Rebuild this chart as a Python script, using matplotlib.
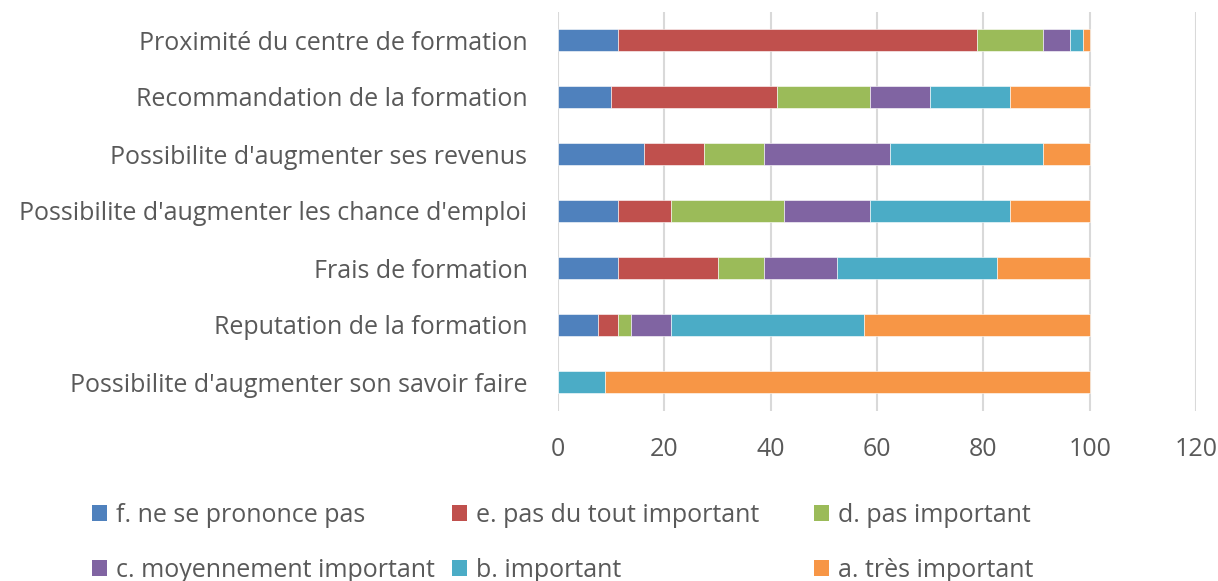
import numpy as np
import matplotlib.pyplot as plt
from matplotlib.patches import Patch

plt.rcParams['font.family'] = ['Open Sans', 'DejaVu Sans']

#%% Data (percent of respondents)
categories = [
    "Proximité du centre de formation",
    "Recommandation de la formation",
    "Possibilite d'augmenter ses revenus",
    "Possibilite d'augmenter les chance d'emploi",
    "Frais de formation",
    "Reputation de la formation",
    "Possibilite d'augmenter son savoir faire",
]
series_names = [
    "f. ne se prononce pas",
    "e. pas du tout important",
    "d. pas important",
    "c. moyennement important",
    "b. important",
    "a. très important",
]
f_vals = [11.25, 10.0, 16.25, 11.25, 11.25, 7.5, 0.0]
e_vals = [67.5, 31.25, 11.25, 10.0, 18.75, 3.75, 0.0]
d_vals = [12.5, 17.5, 11.25, 21.25, 8.75, 2.5, 0.0]
c_vals = [5.0, 11.25, 23.75, 16.25, 13.75, 7.5, 0.0]
b_vals = [2.5, 15.0, 28.75, 26.25, 30.0, 36.25, 8.75]
a_vals = [1.25, 15.0, 8.75, 15.0, 17.5, 42.5, 91.25]
colors = ['#4F81BD', '#C0504D', '#9BBB59', '#8064A2', '#4BACC6', '#F79646']

#%% Plot
txt = '#595959'
fs = 18
fig = plt.figure(figsize=(12.18, 5.81), dpi=100)
ax = fig.add_axes([558/1218, 1 - 410.5/581, (1196 - 558)/1218, 399/581])

y = np.arange(len(categories))
left = np.zeros(len(categories))
for vals, name, col in zip([f_vals, e_vals, d_vals, c_vals, b_vals, a_vals], series_names, colors):
    ax.barh(y, vals, left=left, height=0.4, color=col, edgecolor='white', lw=0.4, label=name)
    left += np.array(vals)

ax.set_ylim(len(categories) - 0.5, -0.5)
ax.set_xlim(0, 120)
ax.set_xticks(np.arange(0, 121, 20))
ax.set_yticks(y)
ax.set_yticklabels(categories)
ax.tick_params(axis='y', length=0, pad=22, labelsize=fs, labelcolor=txt)
ax.tick_params(axis='x', length=0, pad=19, labelsize=fs, labelcolor=txt)
ax.grid(axis='x', color='#D9D9D9', lw=1.5)
ax.set_axisbelow(True)
for s in ax.spines.values():
    s.set_visible(False)

# legend: three equal columns, like Excel
handles = [Patch(facecolor=c) for c in colors]
cols = [(0, 3), (1, 4), (2, 5)]
xs = [92, 452, 814]
for (i, j), x0 in zip(cols, xs):
    fig.legend([handles[i], handles[j]], [series_names[i], series_names[j]],
               loc='upper left', bbox_to_anchor=(x0/1218, 1 - 503/581),
               frameon=False, fontsize=fs, labelcolor=txt,
               handlelength=0.6, handleheight=0.6, handletextpad=0.35,
               labelspacing=1.2, borderpad=0, borderaxespad=0)

fig.savefig('out.png', dpi=100)
